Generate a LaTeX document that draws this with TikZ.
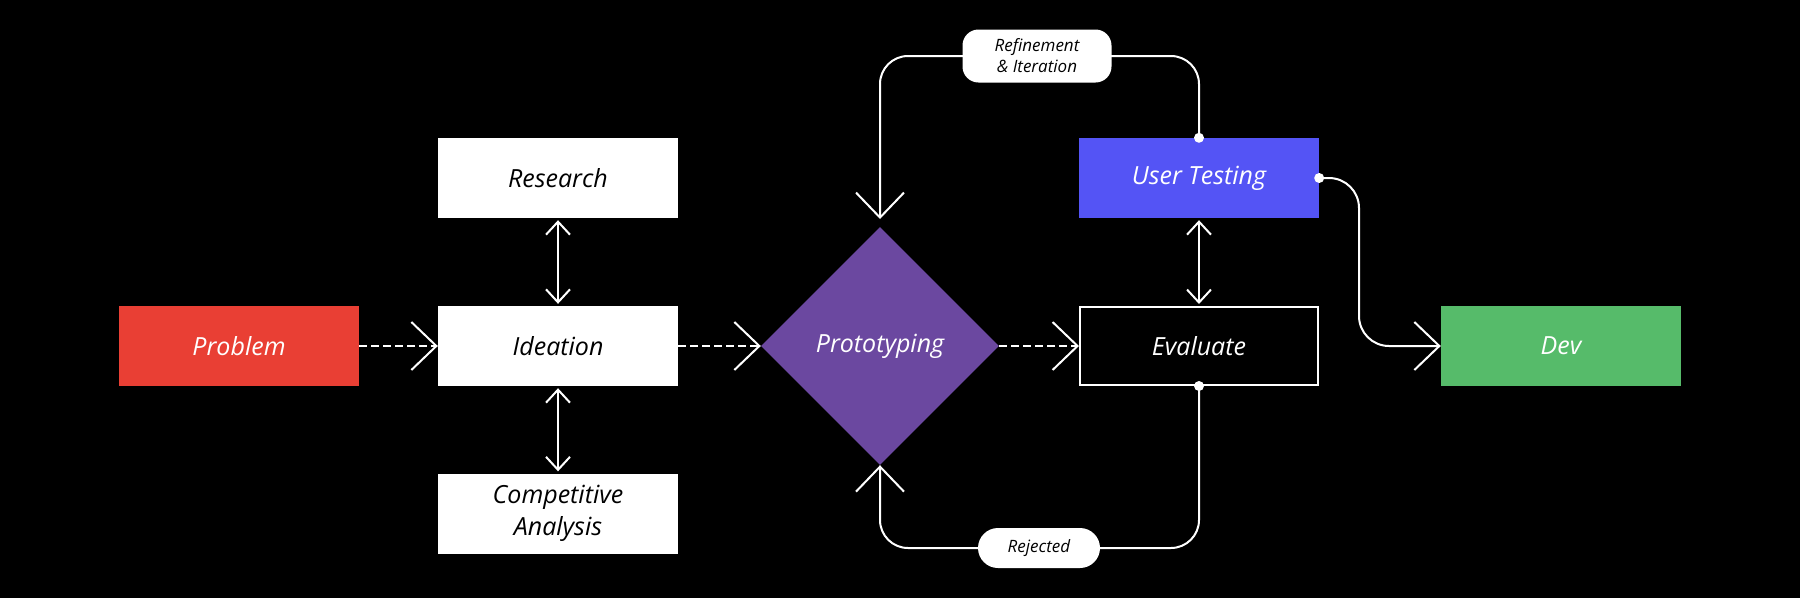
\documentclass[tikz,border=0pt]{standalone}
\usepackage{fontspec}
\setmainfont{Open Sans}
\usetikzlibrary{arrows.meta,shapes.geometric}
\definecolor{cred}{HTML}{E93F34}
\definecolor{cblue}{HTML}{5454F5}
\definecolor{cpurple}{HTML}{6B48A0}
\definecolor{cgreen}{HTML}{56BB6A}
\begin{document}
\begin{tikzpicture}[x=1pt,y=-1pt,
  box/.style={rectangle, minimum width=240pt, minimum height=80pt, inner sep=0pt,
    font=\fontsize{25}{32}\selectfont\itshape, align=center},
  whitebox/.style={box, fill=white, text=black},
  tag/.style={rectangle, fill=white, text=black, inner sep=0pt,
    font=\fontsize{17}{21}\selectfont\itshape, align=center},
  conn/.style={draw=white, line width=2pt},
  dline/.style={conn, dash pattern=on 8pt off 4pt},
  bigtip/.tip={Straight Barb[length=25pt,width=48pt]},
  smalltip/.tip={Straight Barb[length=13pt,width=24pt]},
  dot/.style={fill=white}
]
\fill[black] (0,0) rectangle (1800,598);
\useasboundingbox (0,0) rectangle (1800,598);

% nodes
\node[box, fill=cred, text=white] (prob) at (239,346) {Problem};
\node[whitebox] (idea) at (558,346) {Ideation};
\node[whitebox] (res) at (558,178) {Research};
\node[whitebox] (comp) at (558,513.5) {Competitive\\Analysis};
\node[diamond, fill=cpurple, text=white, minimum width=238pt, minimum height=238pt,
  inner sep=0pt, font=\fontsize{25}{32}\selectfont\itshape] (proto) at (880,346) {Prototyping};
\node[box, draw=white, line width=2pt, text=white, minimum width=238pt, minimum height=78pt] (eval) at (1199,346) {Evaluate};
\node[box, fill=cblue, text=white] (ut) at (1199,178) {User Testing};
\node[box, fill=cgreen, text=white] (dev) at (1561,346) {Dev};

% helper coordinates
\coordinate (tl) at (880,56);
\coordinate (ptop) at (880,219);
\coordinate (bl) at (880,548);
\coordinate (bend) at (1359,178);

% dashed flow
\draw[dline, -bigtip] (prob) -- (idea);
\draw[dline, -bigtip] (idea) -- (proto);
\draw[dline, -bigtip] (proto) -- (eval);

% double arrows
\draw[conn, smalltip-smalltip, shorten <=2pt, shorten >=2pt] (res) -- (idea);
\draw[conn, smalltip-smalltip, shorten <=2pt, shorten >=2pt] (idea) -- (comp);
\draw[conn, smalltip-smalltip, shorten <=2pt, shorten >=2pt] (ut) -- (eval);

% loops
\draw[conn, rounded corners=28pt, -bigtip] (ut.north) |- (tl) -- (ptop);
\draw[conn, rounded corners=28pt, -bigtip] (eval.south) |- (bl) -- (proto.south);
\draw[conn, rounded corners=30pt, -bigtip] (ut.east) -- (bend) |- (dev.west);

\fill[dot] (ut.north) circle (5pt);
\fill[dot] (eval.south) circle (5pt);
\fill[dot] (ut.east) circle (5pt);

% labels
\node[tag, minimum width=149pt, minimum height=53pt, rounded corners=16pt] (refl) at (1037,56) {Refinement\\\& Iteration};
\node[tag, minimum width=122pt, minimum height=40pt, rounded corners=20pt] (rejl) at (1039,548) {Rejected};
\end{tikzpicture}
\end{document}
